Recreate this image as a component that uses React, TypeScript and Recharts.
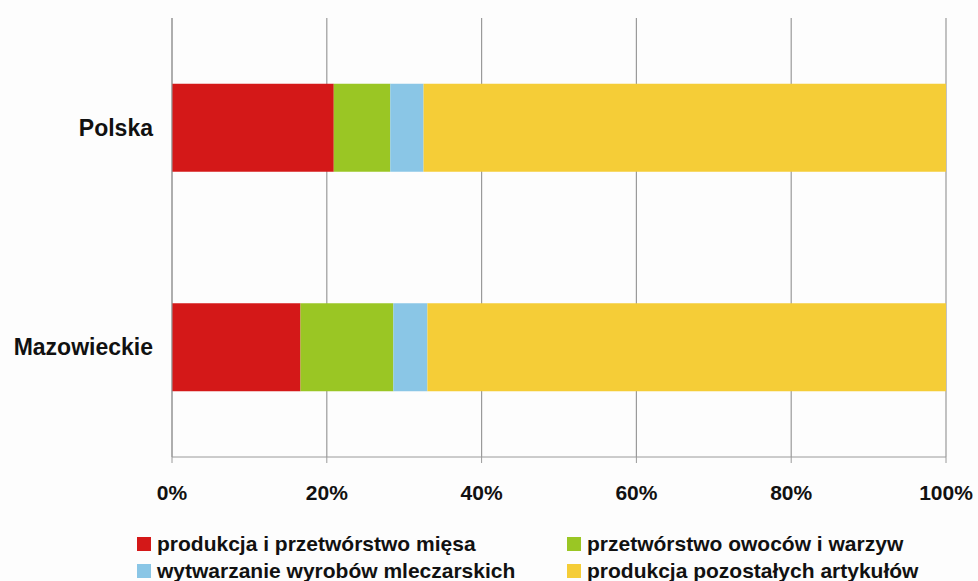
import React from "react";
import { BarChart, Bar, XAxis, YAxis, CartesianGrid } from "recharts";

/* ------------------------------------------------------------------ */
/*  Data                                                               */
/* ------------------------------------------------------------------ */

const regions = ["Polska", "Mazowieckie"];

const mieso = [20.9, 16.6];
const owoce = [7.3, 12.0];
const mleko = [4.3, 4.4];
const pozostale = [67.5, 67.0];

const xTicks = [0, 0.2, 0.4, 0.6, 0.8, 1];

const SERIES = [
  { key: "mieso", label: "produkcja i przetwórstwo mięsa", color: "#d41818", values: mieso },
  { key: "owoce", label: "przetwórstwo owoców i warzyw", color: "#9ac624", values: owoce },
  { key: "mleko", label: "wytwarzanie wyrobów mleczarskich", color: "#8ac6e6", values: mleko },
  { key: "pozostale", label: "produkcja pozostałych artykułów", color: "#f5cd37", values: pozostale },
];

const data = regions.map((name, i) => {
  const row: Record<string, string | number> = { name };
  SERIES.forEach((s) => {
    row[s.key] = s.values[i];
  });
  return row;
});

const FONT = "'Liberation Sans', Arial, sans-serif";

/* ------------------------------------------------------------------ */
/*  Component                                                          */
/* ------------------------------------------------------------------ */

export default function App() {
  // legend laid out in two columns: [mieso, owoce], [mleko, pozostale]
  const legendPos = [
    { left: 137, top: 530 },
    { left: 567, top: 530 },
    { left: 137, top: 557 },
    { left: 567, top: 557 },
  ];

  return (
    <div
      style={{
        position: "absolute",
        left: 0,
        top: 0,
        width: 978,
        height: 581,
        background: "#fdfdfd",
        fontFamily: FONT,
      }}
    >
      <BarChart
        width={978}
        height={581}
        data={data}
        layout="vertical"
        stackOffset="expand"
        barCategoryGap="30%"
        margin={{ top: 18, right: 32, bottom: 81, left: 0 }}
      >
        <CartesianGrid horizontal={false} stroke="#9a9a9a" strokeWidth={1.2} />
        <XAxis
          type="number"
          domain={[0, 1]}
          ticks={xTicks}
          tickFormatter={(v: number) => `${Math.round(v * 100)}%`}
          height={43}
          tickSize={6}
          tickMargin={22}
          stroke="#9a9a9a"
          tick={{ fill: "#111", fontSize: 21, fontWeight: 700, fontFamily: FONT }}
          interval={0}
        />
        <YAxis
          type="category"
          dataKey="name"
          width={172}
          tickLine={false}
          tickSize={0}
          tickMargin={19}
          stroke="#9a9a9a"
          tick={{ fill: "#111", fontSize: 23, fontWeight: 700, fontFamily: FONT }}
        />
        {SERIES.map((s) => (
          <Bar
            key={s.key}
            dataKey={s.key}
            stackId="a"
            fill={s.color}
            isAnimationActive={false}
          />
        ))}
      </BarChart>

      {SERIES.map((s, i) => (
        <div
          key={s.key}
          style={{
            position: "absolute",
            left: legendPos[i].left,
            top: legendPos[i].top,
            height: 27,
            display: "flex",
            alignItems: "center",
            whiteSpace: "nowrap",
            fontSize: 21,
            fontWeight: 700,
            color: "#111",
          }}
        >
          <span
            style={{
              display: "inline-block",
              width: 14,
              height: 14,
              background: s.color,
              marginRight: 6,
            }}
          />
          {s.label}
        </div>
      ))}
    </div>
  );
}
